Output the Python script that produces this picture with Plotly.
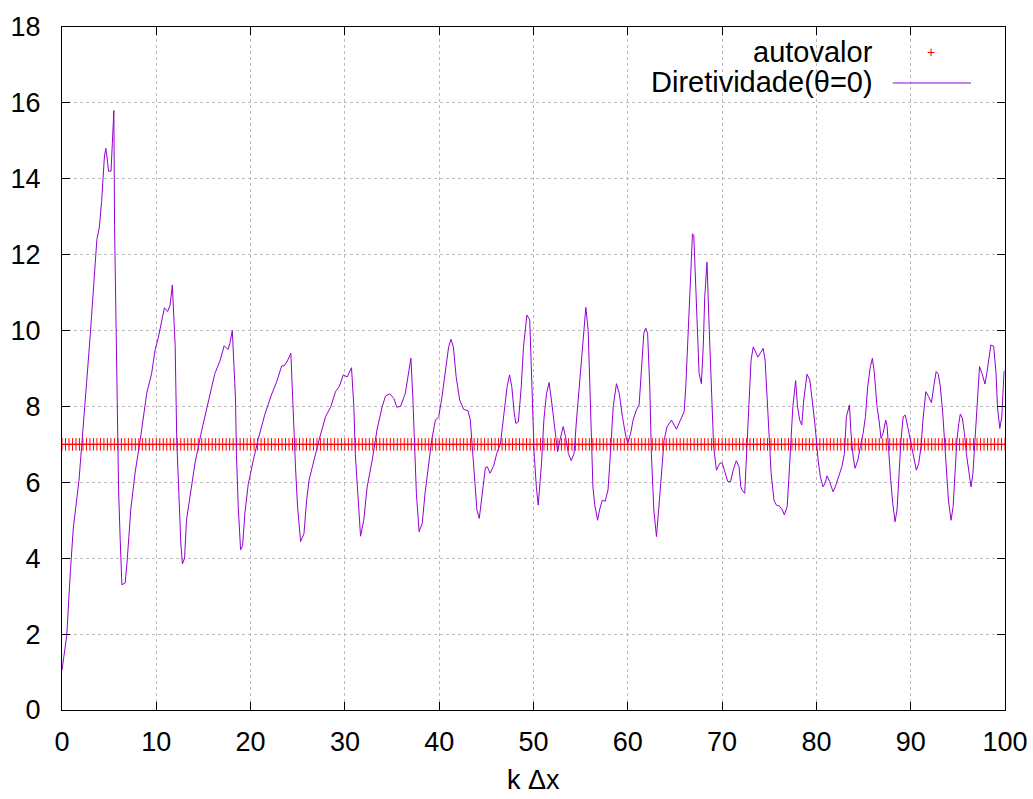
import numpy as np
import plotly.graph_objects as go

# ---- data ----
kdx = [0.0, 0.5, 0.9, 1.2, 1.8, 2.1, 2.6, 3.0, 3.35, 3.7, 3.95, 4.2, 4.5, 4.65, 4.76, 4.94, 5.2, 5.36, 5.5, 5.57,
       5.7, 5.8, 5.9, 6.0, 6.17, 6.35, 6.7, 6.9, 7.3, 7.76, 8.3, 8.64, 9.0, 9.5, 9.88, 10.2, 10.5, 10.86, 11.2, 11.46,
       11.7, 11.8, 12.0, 12.17, 12.4, 12.6, 12.77, 13.0, 13.2, 13.6, 14.1, 14.8, 15.5, 16.2, 16.75, 17.2, 17.6, 17.8,
       18.06, 18.24, 18.4, 18.5, 18.7, 18.94, 19.15, 19.4, 19.75, 20.3, 20.8, 21.5, 22.2, 22.75, 23.3, 23.56, 23.9,
       24.27, 24.4, 24.6, 24.76, 24.97, 25.3,
       25.66, 25.94, 26.2, 26.7, 27.25, 27.95, 28.5, 29.0, 29.4, 29.82, 30.25, 30.7, 30.95, 31.1, 31.4, 31.66, 32.0,
       32.36, 32.9, 33.4, 33.95, 34.3, 34.76, 35.2, 35.5, 35.9, 36.4, 36.7, 37.0, 37.2, 37.37, 37.58, 37.87, 38.2,
       38.5, 38.9, 39.2, 39.6, 39.95, 40.3, 40.65, 41.0, 41.25, 41.5, 41.8, 42.17, 42.6, 43.05, 43.3, 43.5, 43.7,
       44.0, 44.25, 44.5, 44.9, 45.1, 45.4, 45.8, 46.1, 46.5, 46.8, 47.2, 47.46, 47.7, 47.96, 48.13, 48.4, 48.7,
       48.94, 49.3, 49.6, 49.8, 50.07, 50.3, 50.5,
       50.85, 51.1, 51.38, 51.66, 51.9, 52.16, 52.37, 52.55, 52.8, 53.15, 53.4, 53.7, 54.0, 54.3, 54.56, 54.9,
       55.27, 55.55, 55.8, 55.97, 56.15, 56.3, 56.5, 56.8, 57.0, 57.3, 57.6, 57.9, 58.16, 58.45, 58.8, 59.1, 59.43,
       59.8, 60.0, 60.3, 60.56, 60.9, 61.2, 61.45, 61.7, 61.9, 62.1, 62.33, 62.5, 62.76, 63.04, 63.3, 63.57, 63.85,
       64.17, 64.63, 65.16, 65.6, 65.97, 66.15, 66.32, 66.5, 66.68, 66.86, 67.0, 67.14, 67.35, 67.56, 67.8, 68.0,
       68.16, 68.4, 68.6, 68.87, 69.1, 69.4, 69.75, 70.0, 70.3, 70.6, 70.9, 71.17, 71.5, 71.8, 71.98, 72.16, 72.4,
       72.58, 72.86, 73.07, 73.3, 73.57, 73.8, 74.1, 74.35, 74.56, 74.77, 74.98, 75.2, 75.5, 75.76, 76.1, 76.4,
       76.6, 76.9, 77.07, 77.3, 77.5, 77.8, 78.0, 78.23, 78.45, 78.66, 79.0, 79.3, 79.54, 79.8, 80.0, 80.18, 80.42,
       80.7, 80.9, 81.13, 81.4, 81.77, 82.0, 82.37, 82.7, 82.97, 83.18, 83.36, 83.5, 83.67, 83.9, 84.1, 84.4, 84.66,
       84.95, 85.2, 85.44, 85.72, 85.94, 86.15, 86.43, 86.64, 86.85, 87.07, 87.35, 87.5, 87.67, 87.85, 88.1, 88.34,
       88.55, 88.73, 88.97, 89.2, 89.43, 89.68, 89.96, 90.25, 90.6, 90.85, 91.1, 91.3, 91.6, 91.9, 92.2, 92.44,
       92.7, 92.93, 93.14, 93.4, 93.6, 93.8, 94.0, 94.28, 94.5, 94.7, 94.9, 95.1, 95.26, 95.48, 95.7, 95.9, 96.15,
       96.4, 96.6, 96.86, 97.1, 97.3, 97.56, 97.88, 98.1, 98.34, 98.5, 98.8, 99.05, 99.2, 99.45, 99.66, 99.8, 99.9,
       100.0]

diretividade = [1.05, 1.96, 3.7, 4.8, 6.05, 7.1, 8.6, 9.9, 11.2, 12.4, 12.7, 13.4, 14.6, 14.8, 14.6, 14.2, 14.2, 15.2,
                15.8, 12.8, 10.9, 9.1, 7.35, 5.8, 4.5, 3.3, 3.35, 3.9, 5.3, 6.27, 7.13, 7.78, 8.37, 8.86, 9.5, 9.8,
                10.15, 10.6, 10.5, 10.66, 11.2, 10.7, 9.6, 7.1, 5.6, 4.4, 3.85, 4.0, 5.0, 5.7, 6.5, 7.35, 8.1, 8.86,
                9.2, 9.6, 9.5, 9.66, 10.0, 9.07, 8.2, 6.7, 5.3, 4.22, 4.33, 5.2, 5.95, 6.6, 7.13, 7.78, 8.3, 8.64,
                9.07, 9.07, 9.2, 9.4, 8.5, 7.45, 6.4, 5.4, 4.44,
                4.65, 5.53, 6.06, 6.59, 7.11, 7.73, 7.99, 8.39, 8.52, 8.83, 8.78, 9.02, 7.99, 6.76, 5.44, 4.58, 5.0,
                5.88, 6.59, 7.38, 7.99, 8.27, 8.33, 8.21, 7.98, 8.0, 8.34, 8.78, 9.27, 8.26, 6.94, 5.71, 4.70, 4.92,
                5.71, 6.5, 7.11, 7.64, 7.73, 8.26, 8.96, 9.57, 9.77, 9.57, 8.78, 8.17, 7.92, 7.89, 7.64, 6.94, 6.06,
                5.27, 5.05, 5.62, 6.39, 6.41, 6.24, 6.45, 6.76, 7.03, 7.64, 8.52, 8.83, 8.52, 7.82, 7.55, 7.6, 8.52,
                9.57, 10.41, 10.28, 8.52, 6.76, 5.88, 5.4,
                6.5, 7.64, 8.34, 8.63, 8.17, 7.64, 7.11, 6.81, 7.11, 7.47, 7.2, 6.76, 6.57, 6.76, 7.64, 8.7,
                9.93, 10.61, 10.0, 8.78, 7.47, 5.88, 5.4, 5.0, 5.27, 5.53, 5.5, 5.8, 6.76, 7.99, 8.6, 8.34, 7.73,
                7.2, 7.04, 7.29, 7.64, 7.9, 8.04, 8.96, 9.93, 10.06, 9.93, 8.52, 6.76, 5.27, 4.57, 5.36, 6.24, 7.11,
                7.47, 7.64, 7.4, 7.64, 7.86, 8.52, 9.57, 10.72, 11.86, 12.55, 12.5, 11.6, 10.0, 8.87, 8.6, 9.57,
                10.9, 11.8, 10.28, 8.52, 6.94, 6.32, 6.5, 6.52, 6.24, 6.02, 6.02, 6.32, 6.57, 6.41, 5.88, 5.78, 5.71,
                6.76, 8.08, 9.22, 9.57, 9.44, 9.3, 9.42, 9.53, 9.22, 8.34, 7.2, 6.24, 5.53, 5.4, 5.37, 5.27,
                5.14, 5.36, 6.06, 7.11, 7.99, 8.68, 7.99, 7.64, 7.51, 8.17, 8.85, 8.7, 8.26, 7.64, 7.11, 6.59, 6.15,
                5.88, 5.97, 6.17, 6.02, 5.75, 5.88, 6.19, 6.41, 6.76, 7.73, 7.9, 8.04, 7.29, 6.67, 6.37, 6.59, 6.94,
                7.29, 7.73, 8.52, 9.05, 9.27, 8.87, 7.99, 7.64, 7.16, 7.29, 7.64, 7.47, 6.76, 6.15, 5.44, 4.96,
                5.27, 6.06, 7.11, 7.73, 7.77, 7.47, 7.11, 6.67, 6.32, 6.5, 6.94, 7.64, 8.39, 8.26, 8.1, 8.52,
                8.92, 8.85, 8.52, 7.82, 7.11, 6.41, 5.53, 5.0, 5.36, 6.24, 7.11, 7.55, 7.8, 7.69, 7.29, 6.76, 6.24,
                5.88, 6.24, 7.2, 8.17, 9.05, 8.87, 8.59, 8.92, 9.4, 9.62, 9.59, 8.87, 7.99, 7.42, 7.73, 8.26, 8.92,
                8.95]

autovalor_value = 7.0
autovalor_kdx = np.linspace(0, 100, 271)   # sampling grid of k*dx
autovalor = [autovalor_value] * len(autovalor_kdx)

x_ticks = [0, 10, 20, 30, 40, 50, 60, 70, 80, 90, 100]
y_ticks = [0, 2, 4, 6, 8, 10, 12, 14, 16, 18]

FONT = "Liberation Sans, Arial, sans-serif"
PURPLE = "#9400d3"
RED = "#ff0000"

fig = go.Figure()
fig.add_trace(go.Scatter(
    x=autovalor_kdx, y=autovalor, mode="markers", name="autovalor",
    marker=dict(symbol="cross-thin", size=9, line=dict(color=RED, width=1), color=RED),
    showlegend=False))
fig.add_trace(go.Scatter(
    x=kdx, y=diretividade, mode="lines", name="Diretividade(θ=0)",
    line=dict(color=PURPLE, width=1), showlegend=False))

axis_common = dict(
    showline=True, linecolor="black", linewidth=1, mirror="ticks",
    ticks="inside", ticklen=8, tickcolor="black",
    showgrid=True, gridcolor="#bcbcbc", griddash="dot", gridwidth=1,
    zeroline=False, automargin=False,
    tickfont=dict(family=FONT, size=27, color="black"),
)

fig.update_xaxes(range=[0, 100], tickvals=x_ticks, ticklabelstandoff=8, **axis_common)
fig.update_yaxes(range=[0, 18], tickvals=y_ticks, ticklabelstandoff=15, **axis_common)

# x-axis title
fig.add_annotation(xref="paper", yref="paper", x=0.5, y=-0.102, xanchor="center", yanchor="middle",
                   text="k Δx", showarrow=False, borderpad=0,
                   font=dict(family=FONT, size=27, color="black"))

# gnuplot-style legend (text right-aligned, sample to the right)
fig.add_annotation(xref="paper", yref="paper", x=0.862, y=0.963, xanchor="right", yanchor="middle",
                   text="autovalor", showarrow=False, font=dict(family=FONT, size=29, color="black"))
fig.add_annotation(xref="paper", yref="paper", x=0.862, y=0.919, xanchor="right", yanchor="middle",
                   text="Diretividade(θ=0)", showarrow=False, font=dict(family=FONT, size=29, color="black"))
fig.add_annotation(xref="paper", yref="paper", x=0.9215, y=0.963, xanchor="center", yanchor="middle",
                   text="+", showarrow=False, font=dict(family=FONT, size=14, color=RED))
fig.add_shape(type="line", xref="paper", yref="paper", x0=0.881, x1=0.964, y0=0.918, y1=0.918,
              line=dict(color=PURPLE, width=1))

fig.update_layout(
    width=1033, height=799,
    margin=dict(l=62, r=28, t=27, b=89, autoexpand=False),
    paper_bgcolor="white", plot_bgcolor="white",
    font=dict(family=FONT, color="black"),
)

fig.write_html("out.html")
